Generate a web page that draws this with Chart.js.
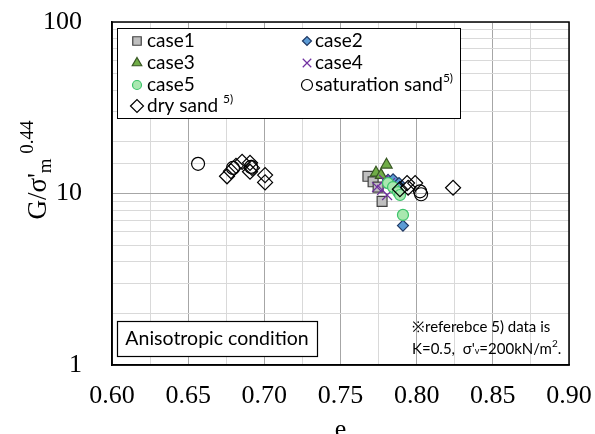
<!DOCTYPE html>
<html>
<head>
<meta charset="utf-8">
<script src="https://cdn.jsdelivr.net/npm/chart.js@4.4.1/dist/chart.umd.min.js"></script>
<style>
  html, body { margin: 0; padding: 0; background: #fff; }
  #wrap { width: 595px; height: 434px; }
</style>
</head>
<body>
<div id="wrap"><canvas id="grafico"></canvas></div>
<script>
// valores (e , G/σ'm^0.44)
const case1 = [[0.768, 12.6], [0.7714, 11.7], [0.7747, 10.9], [0.7773, 9.0]];
const case2 = [[0.7812, 12.0], [0.7845, 12.1], [0.7884, 11.5], [0.791, 6.5]];
const case3 = [[0.7733, 13.2], [0.7766, 12.8], [0.7802, 14.7]];
const case4 = [[0.774, 10.9], [0.7773, 10.5], [0.7786, 12.0], [0.7806, 9.8], [0.7825, 11.5]];
const case5 = [[0.7812, 11.5], [0.7845, 10.9], [0.7878, 10.2], [0.7891, 9.8], [0.791, 7.5]];
const saturacao = [[0.6565, 14.9], [0.6794, 14.1], [0.6913, 14.3], [0.8022, 10.3], [0.8029, 9.9]];
const areiaSeca = [
  [0.6755, 12.6], [0.6781, 13.5], [0.6814, 14.5], [0.6854, 15.3], [0.6906, 15.1],
  [0.6919, 14.1], [0.6906, 13.4], [0.7005, 12.8], [0.7005, 11.6],
  [0.789, 10.6], [0.7937, 11.5], [0.799, 11.5], [0.7944, 10.8], [0.8239, 10.8]
];
const xTicks = [0.60, 0.65, 0.70, 0.75, 0.80, 0.85, 0.90];
const yTicks = [1, 10, 100];

const pts = (arr) => arr.map(p => ({ x: p[0], y: p[1] }));

const series = [
  { label: "case1", data: case1, style: "rect", radius: 7, bg: "#bfbfbf", border: "#404040", order: 6 },
  { label: "case2", data: case2, style: "rectRot", radius: 5.5, bg: "#5b9bd5", border: "#1f3864", order: 5 },
  { label: "case3", data: case3, style: "triangle", radius: 6.5, bg: "#70ad47", border: "#375623", order: 4 },
  { label: "case4", data: case4, style: "crossRot", radius: 7, bg: "#7030a0", border: "#7030a0", order: 3 },
  { label: "case5", data: case5, style: "circle", radius: 5.5, bg: "#a9e8b0", border: "#3cc36a", order: 2 },
  { label: "saturation sand", sup: "5)", data: saturacao, style: "circle", radius: 6.5, bg: "rgba(255,255,255,0)", border: "#000", order: 1 },
  { label: "dry sand ", sup: "5)", data: areiaSeca, style: "rectRot", radius: 7.5, bg: "rgba(255,255,255,0)", border: "#000", order: 0 },
];

const datasets = series.map(s => ({
  label: s.label,
  data: pts(s.data),
  pointStyle: s.style,
  pointRadius: s.radius,
  pointHoverRadius: s.radius,
  backgroundColor: s.bg,
  borderColor: s.border,
  borderWidth: 1.2,
  order: s.order,
}));

const serif = "'Liberation Serif', 'Times New Roman', serif";
const sans = "Lato, 'Open Sans', sans-serif";

function texto(ctx, partes, x, y) {
  // desenha partes com sub/sobrescrito, retorna largura
  let cx = x;
  partes.forEach(p => {
    ctx.font = p.font;
    ctx.fillText(p.t, cx, y + (p.dy || 0));
    cx += ctx.measureText(p.t).width;
  });
  return cx - x;
}
function largura(ctx, partes) {
  let w = 0;
  partes.forEach(p => { ctx.font = p.font; w += ctx.measureText(p.t).width; });
  return w;
}

const extras = {
  id: "extras",
  afterDraw(chart) {
    const ctx = chart.ctx;
    const a = chart.chartArea;
    ctx.save();

    // caixa da legenda
    ctx.fillStyle = "#fff";
    ctx.fillRect(117, 28, 343, 90);
    ctx.strokeStyle = "#000";
    ctx.lineWidth = 1;
    ctx.strokeRect(117.5, 28.5, 343, 90);

    const linhas = [41, 63, 85, 106];
    series.forEach((s, i) => {
      const col = i % 2;
      const row = Math.floor(i / 2);
      const mx = col === 0 ? 137 : 307;
      const tx = col === 0 ? 147 : 315;
      const y = linhas[row];
      ctx.fillStyle = s.bg === "rgba(255,255,255,0)" ? "#fff" : s.bg;
      ctx.strokeStyle = s.border;
      ctx.lineWidth = 1.2;
      Chart.helpers.drawPoint(ctx, { pointStyle: s.style, radius: s.radius - 1, rotation: 0, borderWidth: 1.2 }, mx, y);
      ctx.fillStyle = "#000";
      ctx.textBaseline = "middle";
      ctx.textAlign = "left";
      const partes = [{ t: s.label, font: "19px " + sans }];
      if (s.sup) partes.push({ t: s.sup, font: "12px " + sans, dy: -7 });
      texto(ctx, partes, tx, y);
    });

    // caixa "Anisotropic condition"
    ctx.fillStyle = "#fff";
    ctx.fillRect(117, 321, 200, 35);
    ctx.strokeStyle = "#000";
    ctx.strokeRect(117.5, 321.5, 200, 35);
    ctx.fillStyle = "#000";
    ctx.font = "19.5px " + sans;
    ctx.textAlign = "center";
    ctx.textBaseline = "middle";
    ctx.fillText("Anisotropic condition", 217, 339);

    // nota
    ctx.textAlign = "left";
    ctx.font = "15px " + sans;
    ctx.fillText("※referebce 5) data is", 412, 327);
    texto(ctx, [
      { t: "K=0.5,  σ'", font: "15px " + sans },
      { t: "v", font: "9px " + sans, dy: 2 },
      { t: "=200kN/m", font: "15px " + sans },
      { t: "2", font: "10px " + sans, dy: -5 },
      { t: ".", font: "15px " + sans },
    ], 412, 349);

    // título do eixo y
    ctx.translate(46, 170);
    ctx.rotate(-Math.PI / 2);
    ctx.textAlign = "left";
    ctx.textBaseline = "alphabetic";
    const py = [
      { t: "G/σ'", font: "27px " + serif },
      { t: "m", font: "19px " + serif, dy: 5 },
      { t: " 0.44", font: "19px " + serif, dy: -13 },
    ];
    const w = largura(ctx, py);
    texto(ctx, py, -w / 2, 0);
    ctx.restore();

    // título do eixo x
    ctx.save();
    ctx.fillStyle = "#000";
    ctx.font = "26px " + serif;
    ctx.textAlign = "center";
    ctx.textBaseline = "alphabetic";
    ctx.fillText("e", (a.left + a.right) / 2, 437);
    ctx.restore();
  },
};

const isMajorX = v => Math.abs(v * 20 - Math.round(v * 20)) < 1e-6;

new Chart(document.getElementById("grafico"), {
  type: "scatter",
  data: { datasets },
  options: {
    responsive: true,
    maintainAspectRatio: false,
    animation: false,
    layout: { padding: { left: 0, right: 26, top: 22, bottom: 0 } },
    plugins: {
      legend: { display: false },
      tooltip: { enabled: false },
    },
    scales: {
      x: {
        type: "linear",
        min: 0.6,
        max: 0.9,
        afterBuildTicks: (s) => {
          const t = [];
          for (let i = 0; i <= 12; i++) t.push({ value: +(0.6 + i * 0.025).toFixed(3) });
          s.ticks = t;
        },
        afterFit: (s) => { s.height = 69; s.paddingLeft = 0; s.paddingRight = 0; },
        border: { display: true, color: "#000", width: 1.5 },
        grid: {
          drawTicks: false,
          color: (c) => (c.tick && isMajorX(c.tick.value) ? "#a6a6a6" : "#d9d9d9"),
          lineWidth: 1,
        },
        ticks: {
          padding: 16,
          autoSkip: false,
          maxRotation: 0,
          color: "#000",
          font: { family: serif, size: 26 },
          callback: (v) => (xTicks.some(t => Math.abs(t - v) < 1e-6) ? Number(v).toFixed(2) : ""),
        },
      },
      y: {
        type: "logarithmic",
        min: 1,
        max: 100,
        afterFit: (s) => { s.width = 112; s.paddingTop = 0; s.paddingBottom = 0; },
        border: { display: true, color: "#000", width: 1.5 },
        grid: {
          drawTicks: false,
          color: (c) => (c.tick && c.tick.value === 10 ? "#a6a6a6" : "#d9d9d9"),
          lineWidth: 1,
        },
        ticks: {
          padding: 30,
          autoSkip: false,
          color: "#000",
          font: { family: serif, size: 26 },
          callback: (v) => (yTicks.includes(v) ? String(v) : ""),
        },
      },
    },
  },
  plugins: [
    extras,
    {
      id: "moldura",
      afterDatasetsDraw(chart) {
        const a = chart.chartArea, ctx = chart.ctx;
        ctx.save();
        ctx.strokeStyle = "#000";
        ctx.lineWidth = 1.5;
        ctx.strokeRect(a.left, a.top, a.right - a.left, a.bottom - a.top);
        ctx.restore();
      },
    },
  ],
});
</script>
</body>
</html>
